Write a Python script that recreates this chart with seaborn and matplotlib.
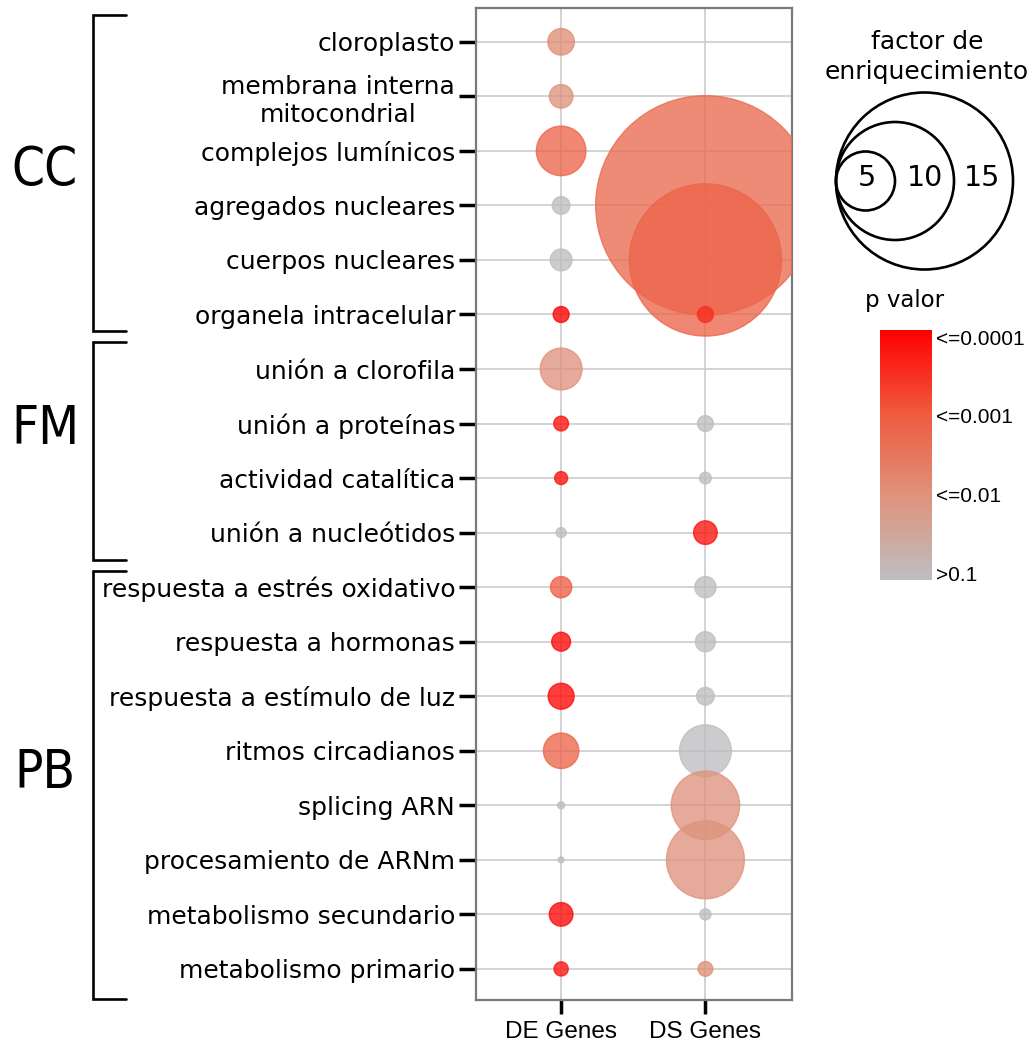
import numpy as np
import pandas as pd
import matplotlib
matplotlib.use("Agg")
import matplotlib.pyplot as plt
import matplotlib.transforms as mtransforms
from matplotlib import font_manager
from matplotlib.colors import LinearSegmentedColormap, Normalize
from matplotlib.cm import ScalarMappable
import seaborn as sns

nan = np.nan

# GO terms, top to bottom
terms = [
    "cloroplasto", "membrana interna\nmitocondrial", "complejos lumínicos",
    "agregados nucleares", "cuerpos nucleares", "organela intracelular",
    "unión a clorofila", "unión a proteínas", "actividad catalítica",
    "unión a nucleótidos", "respuesta a estrés oxidativo", "respuesta a hormonas",
    "respuesta a estímulo de luz", "ritmos circadianos", "splicing ARN",
    "procesamiento de ARNm", "metabolismo secundario", "metabolismo primario",
]
gene_sets = ["DE Genes", "DS Genes"]

# enrichment factor and -log10(p) for each gene set
de_enrich = [2.25, 2.0, 4.2, 1.5, 1.85, 1.35, 3.55, 1.25, 1.1, 0.85,
             1.8, 1.6, 2.2, 3.0, 0.6, 0.5, 2.0, 1.2]
de_logp = [2.1, 2.0, 2.8, 1.0, 1.0, 4.0, 2.0, 3.8, 3.8, 1.0,
           2.9, 3.9, 3.9, 2.8, 1.0, 1.0, 3.9, 3.8]
ds_enrich = [nan, nan, nan, 18.6, 12.9, 1.35, nan, 1.35, 1.0, 2.0,
             1.8, 1.7, 1.5, 4.4, 5.8, 6.6, 0.95, 1.25]
ds_logp = [nan, nan, nan, 2.7, 2.8, 3.5, nan, 1.0, 1.0, 3.8,
           1.0, 1.0, 1.0, 1.0, 2.0, 2.0, 1.0, 2.1]

# ontology groups: label and row span
group_labels = ["CC", "FM", "PB"]
group_spans = [(-0.5, 5.3), (5.5, 9.5), (9.7, 17.55)]
group_label_rows = [2.35, 7.1, 13.4]

legend_values = [5, 10, 15]
pval_ticks = [1, 2, 3, 4]
pval_labels = [">0.1", "<=0.01", "<=0.001", "<=0.0001"]

df = pd.concat([
    pd.DataFrame({"term": terms, "set": gene_sets[0], "enrich": de_enrich, "logp": de_logp}),
    pd.DataFrame({"term": terms, "set": gene_sets[1], "enrich": ds_enrich, "logp": ds_logp}),
], ignore_index=True).dropna()

W, H, DPI = 1035, 1045, 100
PX_PER_UNIT = 5.9                      # bubble radius in pixels per enrichment unit
K = (2 * PX_PER_UNIT * 72 / DPI) ** 2  # marker area (pt^2) per unit^2


def narrow_font(size):
    """Pick a regular narrow/condensed sans face if one is installed."""
    def is_regular(f):
        return f.style == "normal" and f.weight in (400, "normal", "regular", "book")
    cands = []
    for f in font_manager.fontManager.ttflist:
        nm = f.name
        st = str(f.stretch)
        narrow = ("Narrow" in nm or "Condensed" in nm
                  or st in ("condensed", "semi-condensed", "extra-condensed", "75", "87", "62"))
        if narrow and is_regular(f):
            cands.append(f)
    order = ["Liberation Sans Narrow", "DejaVu Sans", "Roboto Condensed",
             "Open Sans Condensed", "Noto Sans"]
    cands.sort(key=lambda f: order.index(f.name) if f.name in order else len(order))
    if cands:
        return font_manager.FontProperties(fname=cands[0].fname, size=size)
    return font_manager.FontProperties(family="Liberation Sans", size=size)


sns.set_style("white")
plt.rcParams["font.family"] = ["DejaVu Sans"]
for key in ("text.color", "axes.labelcolor", "xtick.color", "ytick.color"):
    plt.rcParams[key] = "black"

cmap = LinearSegmentedColormap.from_list(
    "pval",
    [(0.0, (0.745, 0.745, 0.755)), (0.33, (0.87, 0.58, 0.49)),
     (0.67, (0.94, 0.35, 0.24)), (1.0, (1.0, 0.0, 0.0))])

fig = plt.figure(figsize=(W / DPI, H / DPI), dpi=DPI)
ax = fig.add_axes([476 / W, 1 - 1000 / H, 316 / W, 992 / H])

sizes = {v: K * v ** 2 for v in df["enrich"].unique()}
sns.scatterplot(data=df, x="set", y="term", size="enrich", sizes=sizes,
                hue="logp", palette=cmap, hue_norm=(1, 4),
                alpha=0.78, linewidth=1.0, edgecolor="face",
                legend=False, ax=ax, zorder=3)

ax.set_xticks([0, 1])
ax.set_xticklabels(gene_sets, fontfamily=["Liberation Sans", "DejaVu Sans"], fontsize=17.5)
ax.set_yticks(range(len(terms)))
ax.set_yticklabels(terms, fontsize=18, multialignment="center")
ax.set_xlim(-0.59, 1.60)
ax.set_ylim(17.57, -0.62)
ax.set_xlabel("")
ax.set_ylabel("")
ax.set_axisbelow(True)
ax.grid(True, color="#d0d0d0", linewidth=1.3, zorder=0)
ax.tick_params(axis="y", length=12, width=2.5, color="black", pad=3, left=True)
ax.tick_params(axis="x", length=10, width=2.5, color="black", pad=5, bottom=True)
for sp in ax.spines.values():
    sp.set_color("#7a7a7a")
    sp.set_linewidth(1.6)

# pixel-space overlay for the brackets and the legends
ov = fig.add_axes([0, 0, 1, 1], zorder=5)
ov.set_xlim(0, W)
ov.set_ylim(H, 0)
ov.axis("off")
ov.patch.set_alpha(0)

group_font = narrow_font(38)
tr = mtransforms.blended_transform_factory(ov.transData, ax.transData)
for lab, (y0, y1), yl in zip(group_labels, group_spans, group_label_rows):
    ov.plot([126, 93, 93, 126], [y0, y0, y1, y1], color="black", lw=1.9,
            transform=tr, clip_on=False, solid_joinstyle="miter")
    ov.text(45, yl, lab, transform=tr, ha="center", va="center",
            fontproperties=group_font)

# size legend: nested circles tangent on the left
ov.text(927, 57, "factor de\nenriquecimiento", ha="center", va="center",
        fontsize=18, linespacing=1.3)
x_tan, y_c = 836, 181
for v in legend_values[::-1]:
    ov.scatter([x_tan + PX_PER_UNIT * v], [y_c], s=K * v ** 2, facecolor="none",
               edgecolor="black", linewidth=1.9, clip_on=False)
for v, xt in zip(legend_values, [867, 925, 982]):
    ov.text(xt, 178, str(v), ha="center", va="center", fontsize=20.5)

# p-value colour bar
ov.text(905, 300, "p valor", ha="center", va="center", fontsize=16.5)
cax = fig.add_axes([880 / W, 1 - 580 / H, 52 / W, 250 / H])
cb = fig.colorbar(ScalarMappable(norm=Normalize(0.92, 4.09), cmap=cmap), cax=cax)
cb.outline.set_visible(False)
cb.set_ticks(pval_ticks)
cb.set_ticklabels(pval_labels)
cax.tick_params(length=0, pad=3, labelsize=15)
for t in cax.get_yticklabels():
    t.set_fontfamily(["Liberation Sans", "DejaVu Sans"])

fig.savefig("out.png", dpi=DPI)
